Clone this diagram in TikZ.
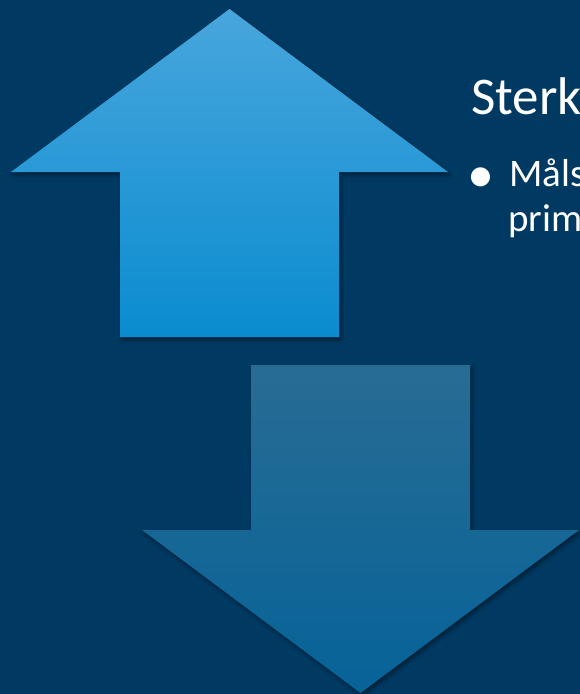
\documentclass[tikz,border=0pt]{standalone}
\usepackage{fontspec}
\setmainfont{Carlito}
\usetikzlibrary{shadows.blur}
\definecolor{slidebg}{RGB}{0,58,99}
\definecolor{upTop}{RGB}{72,166,220}
\definecolor{upBottom}{RGB}{10,140,208}
\definecolor{downTop}{RGB}{40,108,148}
\definecolor{downBottom}{RGB}{6,99,152}
\tikzset{
    arrowshadow/.style = {blur shadow={shadow xshift=2pt,shadow yshift=-3pt,shadow blur radius=4pt,shadow opacity=45}},
    uparrow/.style = {arrowshadow,top color=upTop,bottom color=upBottom},
    downarrow/.style = {arrowshadow,top color=downTop,bottom color=downBottom},
    slidetext/.style = {text=white,inner sep=0,anchor=base west}
}

\begin{document}
\begin{tikzpicture}[x=1pt,y=-1pt]
    \newcommand\headw{218.5}
    \newcommand\shaftw{109.5}
    % Background
    \fill[slidebg] (0,0) rectangle (580,694);
    \useasboundingbox (0,0) rectangle (580,694);
    % Arrow corners
    \coordinate (uptip) at (229.5,9);
    \coordinate (upbase) at (229.5,172);
    \coordinate (upend) at (229.5,337);
    \coordinate (downend) at (360.5,365);
    \coordinate (downbase) at (360.5,530);
    \coordinate (downtip) at (360.5,693);
    % Up arrow
    \path[uparrow] (uptip)
        -- ([xshift=\headw pt]upbase) -- ([xshift=\shaftw pt]upbase)
        -- ([xshift=\shaftw pt]upend) -- ([xshift=-\shaftw pt]upend)
        -- ([xshift=-\shaftw pt]upbase) -- ([xshift=-\headw pt]upbase)
        -- cycle;
    % Down arrow
    \path[downarrow] (downtip)
        -- ([xshift=\headw pt]downbase) -- ([xshift=\shaftw pt]downbase)
        -- ([xshift=\shaftw pt]downend) -- ([xshift=-\shaftw pt]downend)
        -- ([xshift=-\shaftw pt]downbase) -- ([xshift=-\headw pt]downbase)
        -- cycle;
    % Text
    \node[slidetext,font=\fontsize{53}{64}\selectfont] (title) at (471,114) {Sterk};
    \node[slidetext,font=\fontsize{54}{64}\selectfont] (bullet) at (467,192) {\textbullet};
    \node[slidetext,font=\fontsize{39}{47}\selectfont] (lineone) at (509,186) {Måls};
    \node[slidetext,font=\fontsize{39}{47}\selectfont] (linetwo) at (508,231) {prim};
\end{tikzpicture}
\end{document}
